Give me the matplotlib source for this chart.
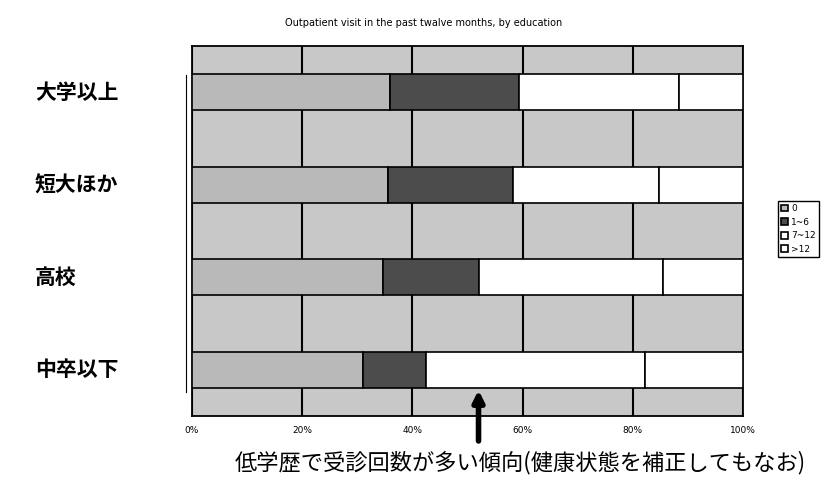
import numpy as np
import matplotlib
matplotlib.use("Agg")
import matplotlib.pyplot as plt
from matplotlib.transforms import blended_transform_factory

plt.rcParams['font.family'] = ['Noto Sans CJK JP', 'DejaVu Sans']

# data (percent of each group)
groups = ['大学以上', '短大ほか', '高校', '中卒以下']
visits_0 = [35.9, 35.5, 34.7, 31.1]
visits_1_6 = [23.5, 22.8, 17.3, 11.4]
visits_7_12 = [29.0, 26.5, 33.5, 39.7]
visits_over12 = [11.6, 15.2, 14.5, 17.8]
series_labels = ['0', '1~6', '7~12', '>12']
xticks = [0, 20, 40, 60, 80, 100]
xtick_labels = ['0%', '20%', '40%', '60%', '80%', '100%']
title = 'Outpatient visit in the past twalve months, by education'
note = '低学歴で受診回数が多い傾向(健康状態を補正してもなお)'
arrow_at = 52

colors = ['#b9b9b9', '#4c4c4c', 'white', 'white']

fig = plt.figure(figsize=(8.31, 4.8), dpi=100)
ax = fig.add_axes([192 / 831, 1 - 416 / 480, 551 / 831, 370 / 480])
ax.set_facecolor('#c8c8c8')

y = np.arange(len(groups))
left = np.zeros(len(groups))
series = [visits_0, visits_1_6, visits_7_12, visits_over12]
handles = []
for vals, col, lab in zip(series, colors, series_labels):
    b = ax.barh(y, vals, left=left, height=0.39, color=col,
                edgecolor='black', linewidth=1.2, label=lab, zorder=3)
    handles.append(b)
    left += np.array(vals)

ax.set_xlim(0, 100)
ax.set_ylim(3.5, -0.5)
ax.set_xticks(xticks)
ax.set_xticklabels(xtick_labels, fontsize=6.5, family='DejaVu Sans')
ax.tick_params(axis='x', length=0, pad=7)
ax.set_yticks([])
ax.grid(axis='x', color='black', linewidth=1.5, zorder=1)
ax.set_axisbelow(True)
for s in ax.spines.values():
    s.set_color('black')
    s.set_linewidth(1.3)

# thin offset line on the left
tr = blended_transform_factory(ax.transAxes, ax.transData)
ax.plot([-6 / 551, -6 / 551], [-0.19, 3.24], color='black', lw=0.8,
        transform=tr, clip_on=False)

# category labels far to the left
trf = blended_transform_factory(fig.transFigure, ax.transData)
for yi, g in zip(y, groups):
    ax.text(35 / 831, yi, g, transform=trf, ha='left', va='center',
            fontsize=15, fontweight='bold')

fig.text(424 / 831, 1 - 23 / 480, title, ha='center', va='center',
         fontsize=7, family='DejaVu Sans')

fig.legend(handles=handles, labels=series_labels, loc='upper left',
           bbox_to_anchor=(778 / 831, 1 - 201 / 480),
           frameon=True, fancybox=False, edgecolor='black', framealpha=1,
           handlelength=0.8, handleheight=0.8, handletextpad=0.3,
           labelspacing=0.5, borderpad=0.35, borderaxespad=0,
           prop={'family': 'DejaVu Sans', 'size': 6.5})

# arrow pointing up at the low-education bar
ax.annotate('', xy=(arrow_at, 3.22), xytext=(arrow_at, 3.77),
            xycoords='data', textcoords='data', annotation_clip=False,
            arrowprops=dict(arrowstyle='-|>', color='black', lw=4,
                            mutation_scale=16, shrinkA=0, shrinkB=0),
            zorder=5)

fig.text(520 / 831, 1 - 463 / 480, note, ha='center', va='center',
         fontsize=16)

fig.savefig('out.png', dpi=100)
